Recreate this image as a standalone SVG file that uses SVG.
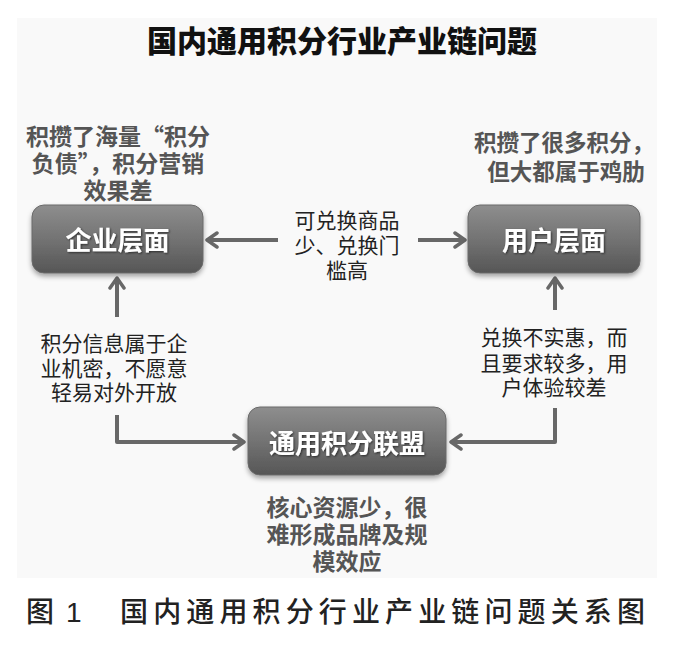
<svg xmlns="http://www.w3.org/2000/svg" width="675" height="645" viewBox="0 0 675 645">
<defs>
<linearGradient id="boxg" x1="0" y1="0" x2="0" y2="1">
<stop offset="0" stop-color="#8e8e8e"/>
<stop offset="0.5" stop-color="#737373"/>
<stop offset="1" stop-color="#565656"/>
</linearGradient>
<filter id="sh" x="-10%" y="-10%" width="125%" height="135%">
<feDropShadow dx="0" dy="3" stdDeviation="2.5" flood-color="#000" flood-opacity="0.35"/>
</filter>
<filter id="tsh" x="-5%" y="-20%" width="110%" height="140%">
<feDropShadow dx="1" dy="1" stdDeviation="0.8" flood-color="#000" flood-opacity="0.6"/>
</filter>
<marker id="arr" viewBox="0 0 14 18" refX="12" refY="9" markerWidth="14" markerHeight="18" markerUnits="userSpaceOnUse" orient="auto">
<path d="M2,2 L12,9 L2,16" fill="none" stroke="#686868" stroke-width="3.5" stroke-linecap="round" stroke-linejoin="round"/>
</marker>
</defs>
<style>
.cjk{font-family:"Noto Sans CJK SC","Noto Sans",sans-serif}
.title{font-size:30px;font-weight:900;fill:#111}
.note{font-size:23px;font-weight:700;fill:#555}
.mid{font-size:21px;font-weight:400;fill:#222}
.box{fill:url(#boxg);stroke:#6a6a6a;stroke-width:1}
.btxt{font-size:26px;font-weight:700;fill:#fff}
.conn{fill:none;stroke:#686868;stroke-width:4;stroke-linejoin:round}
.cap{font-size:28px;font-weight:500;fill:#222}
</style>
<rect x="0" y="0" width="675" height="645" fill="#ffffff"/>
<rect x="17" y="18" width="640" height="560" fill="#f9f9f9"/>
<text class="cjk title" x="342" y="52" text-anchor="middle">国内通用积分行业产业链问题</text>

<g id="connectors">
<path class="conn" d="M278,240 L207,240" marker-end="url(#arr)"/>
<path class="conn" d="M418,240 L465,240" marker-end="url(#arr)"/>
<path class="conn" d="M117,317 L117,278" marker-end="url(#arr)"/>
<path class="conn" d="M555,310 L555,278" marker-end="url(#arr)"/>
<path class="conn" d="M117,415 L117,442 L244,442" marker-end="url(#arr)"/>
<path class="conn" d="M555,408 L555,442 L451,442" marker-end="url(#arr)"/>
</g>

<g id="node-enterprise">
<rect class="box" x="32" y="205" width="171" height="68" rx="12" filter="url(#sh)"/>
<text class="cjk btxt" x="117.5" y="250" text-anchor="middle" filter="url(#tsh)">企业层面</text>
</g>
<g id="node-user">
<rect class="box" x="468" y="205" width="172" height="68" rx="12" filter="url(#sh)"/>
<text class="cjk btxt" x="554" y="250" text-anchor="middle" filter="url(#tsh)">用户层面</text>
</g>
<g id="node-alliance">
<rect class="box" x="248" y="407" width="198" height="68" rx="12" filter="url(#sh)"/>
<text class="cjk btxt" x="347" y="453" text-anchor="middle" filter="url(#tsh)">通用积分联盟</text>
</g>

<g id="note-enterprise">
<text class="cjk note" x="118" y="145" text-anchor="middle">积攒了海量“积分</text>
<text class="cjk note" x="118" y="172" text-anchor="middle">负债”，积分营销</text>
<text class="cjk note" x="118" y="199" text-anchor="middle">效果差</text>
</g>
<g id="note-user">
<text class="cjk note" x="564" y="151" text-anchor="middle" style="font-size:22.5px">积攒了很多积分，</text>
<text class="cjk note" x="566" y="180" text-anchor="middle" style="font-size:22.5px">但大都属于鸡肋</text>
</g>
<g id="label-top">
<text class="cjk mid" x="347" y="228" text-anchor="middle">可兑换商品</text>
<text class="cjk mid" x="347" y="253" text-anchor="middle">少、兑换门</text>
<text class="cjk mid" x="347" y="278" text-anchor="middle">槛高</text>
</g>
<g id="label-left">
<text class="cjk mid" x="114" y="351" text-anchor="middle">积分信息属于企</text>
<text class="cjk mid" x="114" y="376" text-anchor="middle">业机密，不愿意</text>
<text class="cjk mid" x="114" y="400" text-anchor="middle">轻易对外开放</text>
</g>
<g id="label-right">
<text class="cjk mid" x="554" y="345" text-anchor="middle">兑换不实惠，而</text>
<text class="cjk mid" x="554" y="371" text-anchor="middle">且要求较多，用</text>
<text class="cjk mid" x="554" y="395" text-anchor="middle">户体验较差</text>
</g>
<g id="note-alliance">
<text class="cjk note" x="347" y="516" text-anchor="middle">核心资源少，很</text>
<text class="cjk note" x="347" y="543" text-anchor="middle">难形成品牌及规</text>
<text class="cjk note" x="347" y="570" text-anchor="middle">模效应</text>
</g>

<g id="caption">
<text class="cjk cap" x="26" y="622">图</text>
<text class="cap" x="66" y="622" style="font-family:'Liberation Sans',sans-serif">1</text>
<text class="cjk cap" x="120" y="622" textLength="525" lengthAdjust="spacing">国内通用积分行业产业链问题关系图</text>
</g>
</svg>
